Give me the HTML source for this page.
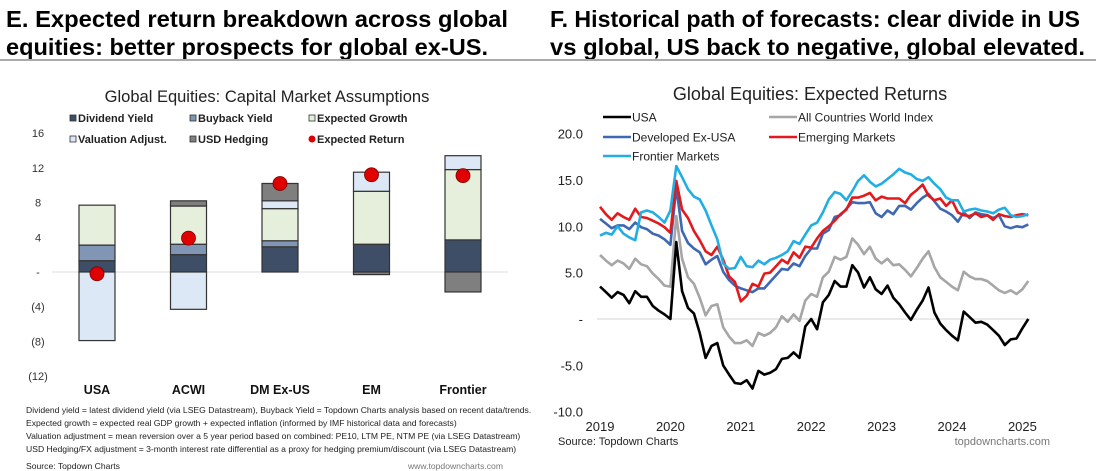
<!DOCTYPE html>
<html><head><meta charset="utf-8"><style>
html,body{margin:0;padding:0;background:#fff;width:1100px;height:471px;overflow:hidden}
svg{display:block;font-family:"Liberation Sans",Arial,sans-serif}
</style></head><body>
<svg id="root" width="1100" height="471" viewBox="0 0 1100 471">
<text x="6" y="27" font-size="23" font-weight="bold" textLength="502" lengthAdjust="spacingAndGlyphs">E. Expected return breakdown across global</text>
<text x="6" y="55" font-size="23" font-weight="bold" textLength="482" lengthAdjust="spacingAndGlyphs">equities: better prospects for global ex-US.</text>
<text x="550" y="27" font-size="23" font-weight="bold" textLength="530" lengthAdjust="spacingAndGlyphs">F. Historical path of forecasts: clear divide in US</text>
<text x="550" y="55" font-size="23" font-weight="bold" textLength="535" lengthAdjust="spacingAndGlyphs">vs global, US back to negative, global elevated.</text>
<line x1="0" y1="60" x2="1096" y2="60" stroke="#aaa" stroke-width="2"/>

<text x="267" y="102" font-size="16.5" text-anchor="middle" fill="#222">Global Equities: Capital Market Assumptions</text>
<g id="barLegend" font-size="11" font-weight="bold" fill="#222"></g>
<g id="barChart"></g>
<g font-size="8.6" fill="#222">
<text x="26" y="413">Dividend yield = latest dividend yield (via LSEG Datastream), Buyback Yield = Topdown Charts analysis based on recent data/trends.</text>
<text x="26" y="426">Expected growth = expected real GDP growth + expected inflation (informed by IMF historical data and forecasts)</text>
<text x="26" y="439">Valuation adjustment = mean reversion over a 5 year period based on combined: PE10, LTM PE, NTM PE (via LSEG Datastream)</text>
<text x="26" y="452">USD Hedging/FX adjustment = 3-month interest rate differential as a proxy for hedging premium/discount (via LSEG Datastream)</text>
<text x="26" y="469">Source: Topdown Charts</text>
<text x="503" y="469" text-anchor="end" fill="#777">www.topdowncharts.com</text>
</g>

<text x="810" y="100" font-size="18" text-anchor="middle" fill="#222">Global Equities: Expected Returns</text>
<g id="lineLegend" font-size="12" fill="#222"></g>
<g id="lineChart"></g>
<text x="558" y="445" font-size="11" fill="#222">Source: Topdown Charts</text>
<text x="1050" y="445" font-size="11" fill="#777" text-anchor="end">topdowncharts.com</text>
</svg>
<script>
// ---- Bar chart data ----
const barCategories = ["USA","ACWI","DM Ex-US","EM","Frontier"];
const dividendYield = [1.3,2.0,2.9,3.2,3.7];
const buybackYield = [1.8,1.2,0.7,0.0,0.0];
const expectedGrowth = [4.6,4.4,3.7,6.1,8.1];
const valuationAdj = [-7.9,-4.3,0.9,2.2,1.6];
const usdHedging = [0.0,0.6,2.0,-0.3,-2.3];
const expectedReturn = [-0.2,3.9,10.2,11.2,11.1];
const barTicks = [16,12,8,4,0,-4,-8,-12];
const barTickLabels = ["16","12","8","4","-","(4)","(8)","(12)"];

// ---- Line chart data ----
const lineStartYear = 2019;
const usa = [3.5,2.9,2.3,2.9,2.6,1.7,3.0,2.4,2.4,1.4,0.9,0.5,
 0.0,8.3,3.0,1.2,0.6,-1.5,-4.2,-2.9,-2.6,-5.0,-6.0,-6.9,
 -7.0,-6.6,-7.5,-5.6,-6.0,-5.8,-5.4,-4.3,-4.2,-3.6,-4.2,-0.8,
 0.0,-1.1,1.8,2.6,4.1,3.5,3.5,5.8,5.0,3.4,4.5,3.2,
 2.7,3.6,2.3,1.6,0.7,-0.1,1.0,2.0,3.4,0.7,-0.5,-1.2,
 -1.8,-2.3,0.8,0.2,-0.4,-0.3,-0.6,-1.2,-1.8,-2.8,-2.2,-2.1,
 -1.0,0.0];
const acwi = [6.9,6.3,5.8,6.3,6.0,5.4,6.5,5.9,5.7,4.9,4.3,3.6,
 3.5,11.1,6.5,4.5,3.8,2.3,0.4,1.4,1.6,-0.9,-1.9,-2.6,
 -2.6,-2.3,-2.9,-1.5,-1.8,-1.5,-0.9,0.3,-0.3,0.5,-0.2,2.0,
 2.7,2.4,4.5,5.1,6.7,6.4,6.7,8.7,8.0,7.0,7.8,6.5,
 6.0,6.5,5.8,5.9,5.3,4.6,5.5,6.5,7.3,5.6,4.5,4.0,
 3.5,3.1,5.1,4.6,4.3,4.3,4.1,3.6,3.1,2.8,3.1,2.7,
 3.2,4.1];
const dmExUsa = [10.8,10.3,9.8,10.1,10.1,9.7,10.4,9.9,9.7,9.2,9.0,8.6,
 8.0,14.2,9.5,8.2,7.6,7.2,5.9,6.4,6.8,5.1,4.2,3.6,
 3.3,3.1,2.9,3.3,3.3,4.0,4.7,5.4,5.3,6.0,5.7,6.8,
 7.6,7.6,9.2,9.6,11.0,11.2,11.9,12.6,12.5,12.5,12.6,11.4,
 11.0,11.7,11.3,12.2,12.2,11.8,12.5,13.1,13.5,12.7,11.9,11.6,
 11.2,10.5,11.5,10.9,11.5,11.3,11.2,10.9,11.2,10.0,9.8,10.0,
 9.9,10.2];
const emerging = [12.1,11.3,10.7,11.4,11.0,10.7,11.9,11.0,10.9,10.6,10.3,9.9,
 9.3,14.9,11.8,10.9,9.5,8.5,7.3,6.9,7.8,6.4,4.6,4.0,
 1.9,2.5,3.8,3.5,4.9,5.0,5.7,6.4,6.0,7.2,6.6,7.8,
 7.7,8.7,9.5,10.0,10.6,11.3,11.8,13.1,13.1,13.3,13.6,12.8,
 13.2,13.0,13.0,13.0,12.5,13.4,13.9,14.5,13.3,12.8,13.0,12.2,
 12.8,11.5,11.2,11.1,11.4,11.0,11.2,10.7,11.3,11.1,11.0,11.2,
 11.3,11.2];
const frontier = [9.0,9.3,9.1,10.0,9.2,8.8,8.5,11.5,11.7,11.5,11.0,10.4,
 11.7,16.5,15.3,14.0,13.2,12.9,11.7,10.1,8.6,6.0,5.4,5.5,
 6.7,5.7,5.6,6.3,5.9,6.4,6.6,6.9,7.3,8.4,8.1,9.1,
 10.1,10.4,11.5,12.9,13.7,13.5,12.8,13.8,14.9,15.5,14.8,14.3,
 14.6,15.1,15.6,16.2,15.8,15.6,15.1,14.9,15.3,14.6,14.0,13.1,
 12.8,12.8,11.6,11.8,11.9,11.7,11.6,11.4,11.8,12.0,11.2,11.0,
 11.1,11.3];
const lineYTicks = [20,15,10,5,0,-5,-10];
const lineYTickLabels = ["20.0","15.0","10.0","5.0","-","-5.0","-10.0"];
const lineXTicks = [2019,2020,2021,2022,2023,2024,2025];

const NS="http://www.w3.org/2000/svg";
function mk(tag, attrs, parent){const e=document.createElementNS(NS,tag);for(const k in attrs)e.setAttribute(k,attrs[k]);parent.appendChild(e);return e;}

// ---- Bar chart ----
const bY = v => 272 - v*8.68;
const bX = i => 97 + i*91.5;
const barG = document.getElementById('barChart');
barTicks.forEach((t,i)=>{
  const tx=mk('text',{x:38,y:bY(t)+4,'font-size':11,'text-anchor':'middle',fill:'#333'},barG);
  tx.textContent=barTickLabels[i];
  
  
});
const zl=mk('line',{x1:52,x2:508,y1:bY(0),y2:bY(0),stroke:'#ddd','stroke-width':1},barG);


const comps=[
 {d:dividendYield,c:'#3d4e66',n:'dividend-yield'},
 {d:buybackYield,c:'#8196b4',n:'buyback-yield'},
 {d:expectedGrowth,c:'#e6efdc',n:'expected-growth'},
 {d:valuationAdj,c:'#dce8f5',n:'valuation-adjust'},
 {d:usdHedging,c:'#7f7f7f',n:'usd-hedging'}];
barCategories.forEach((cat,i)=>{
  let pos=0,neg=0;
  comps.forEach(cp=>{
    const v=cp.d[i]; if(!v) return;
    let y0,y1;
    if(v>0){y0=pos;y1=pos+v;pos=y1;}else{y0=neg;y1=neg+v;neg=y1;}
    const r=mk('rect',{x:bX(i)-18,width:36,y:Math.min(bY(y0),bY(y1)),height:Math.abs(bY(y1)-bY(y0)),fill:cp.c,stroke:'#333','stroke-width':1.2},barG);
    
    
  });
  const c=mk('circle',{cx:bX(i),cy:bY(expectedReturn[i]),r:7,fill:'#e00000',stroke:'#7a0000','stroke-width':0.8},barG);
  
  
  const t=mk('text',{x:bX(i),y:394,'font-size':12.5,'font-weight':'bold','text-anchor':'middle',fill:'#111'},barG);
  t.textContent=cat;
  
  
});
// bar legend
const bl=document.getElementById('barLegend');
const blItems=[['Dividend Yield','#3d4e66','rect',72,122],['Buyback Yield','#8196b4','rect',192,122],['Expected Growth','#e6efdc','rect',311,122],
 ['Valuation Adjust.','#dce8f5','rect',72,143],['USD Hedging','#7f7f7f','rect',192,143],['Expected Return','#e00000','circle',311,143]];
blItems.forEach(it=>{
  const g=mk('g',{},bl);
  
  
  if(it[2]==='rect') mk('rect',{x:it[3]-2,y:it[4]-7,width:6,height:6,fill:it[1],stroke:'#333','stroke-width':0.8},g);
  else mk('circle',{cx:it[3]+1,cy:it[4]-4,r:3.5,fill:it[1]},g);
  const t=mk('text',{x:it[3]+6,y:it[4]},g); t.textContent=it[0];
});

// ---- Line chart ----
const lY = v => 319 - v*9.27;
const lX = yr => 600 + (yr-2019)*70.4;
const lg=document.getElementById('lineChart');
lineYTicks.forEach((t,i)=>{
  const tx=mk('text',{x:583,y:lY(t)+5,'font-size':13,'text-anchor':'end',fill:'#222'},lg);
  tx.textContent=lineYTickLabels[i];
  
  
});
lineXTicks.forEach(t=>{
  const tx=mk('text',{x:lX(t),y:431,'font-size':13,'text-anchor':'middle',fill:'#222'},lg);
  tx.textContent=String(t);
  
  
});
const lz=mk('line',{x1:597,x2:1030,y1:lY(0),y2:lY(0),stroke:'#ddd','stroke-width':1.2},lg);


const series=[
 {d:acwi,c:'#a6a6a6',n:'All Countries World Index',k:'acwi-line'},
 {d:usa,c:'#000000',n:'USA',k:'usa-line'},
 {d:dmExUsa,c:'#3f68b2',n:'Developed Ex-USA',k:'developed-ex-usa-line'},
 {d:emerging,c:'#e3191c',n:'Emerging Markets',k:'emerging-markets-line'},
 {d:frontier,c:'#22aee3',n:'Frontier Markets',k:'frontier-markets-line'}];
series.forEach(s=>{
  const pts=s.d.map((v,i)=>lX(lineStartYear+i/12).toFixed(1)+','+lY(v).toFixed(1)).join(' ');
  const p=mk('polyline',{points:pts,fill:'none',stroke:s.c,'stroke-width':2.6,'stroke-linejoin':'round'},lg);
  
  
});
const ll=document.getElementById('lineLegend');
const llItems=[['USA','#000',603,117],['All Countries World Index','#a6a6a6',769,117],
 ['Developed Ex-USA','#3f68b2',603,137],['Emerging Markets','#e3191c',769,137],['Frontier Markets','#22aee3',603,156]];
llItems.forEach(it=>{
  const g=mk('g',{},ll);
  
  
  mk('line',{x1:it[2],x2:it[2]+28,y1:it[3],y2:it[3],stroke:it[1],'stroke-width':2.6},g);
  const t=mk('text',{x:it[2]+29,y:it[3]+4.5},g); t.textContent=it[0];
});
</script>
</body></html>
